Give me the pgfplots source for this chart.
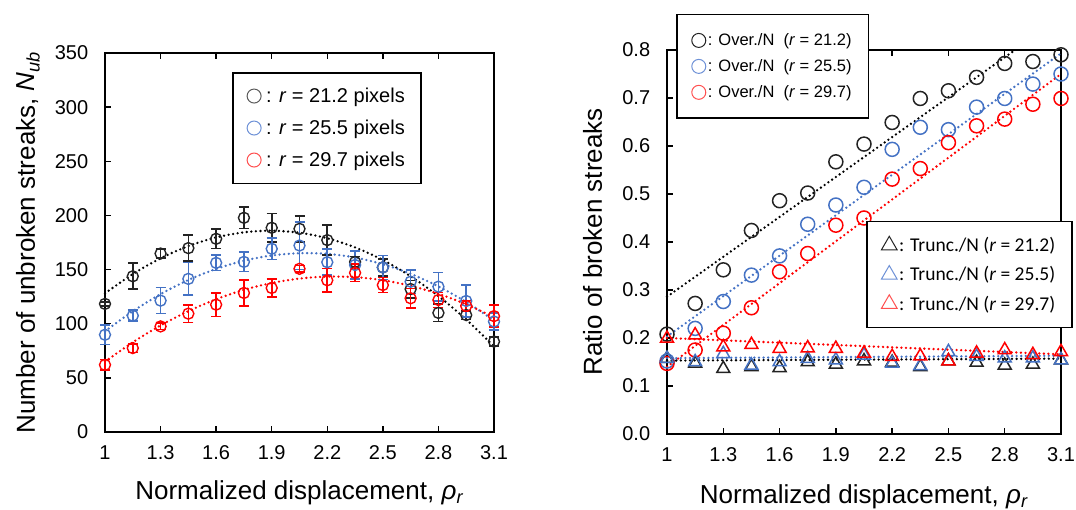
\documentclass[border=0pt]{standalone}
\usepackage{pgfplots}
\pgfplotsset{compat=1.18}
\usepackage{pgfplotstable}
\usepackage{fontspec}
\setmainfont{Liberation Sans}
\newfontfamily\calfont{Carlito}
\definecolor{cblue}{RGB}{68,114,196}
\definecolor{cred}{RGB}{255,0,0}
\definecolor{cblk}{RGB}{35,35,35}
\definecolor{lgray}{RGB}{90,90,90}
\definecolor{lblue}{RGB}{110,145,215}
\definecolor{lred}{RGB}{255,80,80}

\pgfplotstableread{
x y e
1 118.3 2
1.15 143.8 12
1.3 164.8 4
1.45 169.8 12
1.6 178.4 9
1.75 197.8 10
1.9 188.6 13
2.05 187.6 12
2.2 177.2 14
2.35 157 5
2.5 152 8
2.65 132 8
2.8 110 8
2.95 108 4
3.1 83.5 4
}\blackdata
\pgfplotstableread{
x y e
1 89.8 9
1.15 107.4 5
1.3 121.3 12
1.45 141.4 15
1.6 156.2 7
1.75 157.1 9
1.9 169.2 10
2.05 172.2 22
2.2 156.8 12
2.35 154.2 13
2.5 152 11
2.65 138.8 11
2.8 134.2 13
2.95 121 15
3.1 102 8
}\bluedata
\pgfplotstableread{
x y e
1 62 5
1.15 77.5 4
1.3 97.5 3
1.45 109.3 8
1.6 117.6 11
1.75 128.4 12
1.9 133 8.5
2.05 150.7 3
2.2 140.1 11
2.35 147 8
2.5 135.7 7
2.65 123.5 9
2.8 121.9 7
2.95 116.4 5
3.1 107 10
}\reddata

\pgfplotsset{
  base/.style={
    scale only axis, clip=false,
    xmin=1, xmax=3.1,
    xtick={1,1.3,1.6,1.9,2.2,2.5,2.8,3.1},
    xticklabels={1,1.3,1.6,1.9,2.2,2.5,2.8,3.1},
    axis line style={line width=1.8pt, black},
    tick align=inside, major tick length=6pt,
    every tick/.style={line width=1.5pt, black},
    xtick pos=both, ytick pos=left,
    /pgf/number format/assume math mode=true,
    tick label style={font=\fontsize{20}{20}\selectfont, black},
    label style={font=\fontsize{26}{26}\selectfont},
    xticklabel style={yshift=-10pt},
    yticklabel style={xshift=-13.3pt},
    legend cell align=left,
  },
  dots/.style={line width=2.6pt, dash pattern=on 0pt off 4.6pt, line cap=round},
  ebar/.style={error bars/y dir=both, error bars/y explicit,
     error bars/error bar style={line width=1.6pt, color=#1},
     error bars/error mark options={rotate=90, mark size=5pt, line width=1.6pt, color=#1}},
}

\begin{document}
\begin{tikzpicture}[x=1pt,y=1pt]
\path[use as bounding box] (0,0) rectangle (1076,510);

% ---------- Left plot ----------
\begin{axis}[base,
  at={(105pt,78pt)}, anchor=south west,
  width=389pt, height=379pt,
  ymin=0, ymax=350, ytick={0,50,...,350},
  xlabel={Normalized displacement, \textit{ρ}\textsubscript{\textit{r}}},
  ylabel={Number of unbroken streaks, \textit{N}\textsubscript{\textit{ub}}},
  xlabel style={at={(axis description cs:0.5,-0.1794)}, anchor=base},
  ylabel style={at={(axis description cs:-0.18,0.5)}, anchor=base},
  legend style={at={(0.3265,0.95)}, anchor=north west, draw=black, line width=1.6pt,
     fill=white, font=\fontsize{20}{20}\selectfont, row sep=12pt,
     inner xsep=14.3pt, inner ysep=13.3pt, nodes={inner xsep=2pt, inner ysep=2pt}},
  legend image code/.code={\draw[mark repeat=2,mark phase=2,#1] plot coordinates {(0pt,0pt) (7pt,0pt) (14pt,0pt)};},
]
\addlegendimage{only marks, mark=o, mark size=7pt, mark options={line width=1pt, lgray}}
\addlegendentry{\hspace{3pt}: \textit{r} = 21.2 pixels\hspace{8pt}}
\addlegendimage{only marks, mark=o, mark size=7pt, mark options={line width=1pt, lblue}}
\addlegendentry{\hspace{3pt}: \textit{r} = 25.5 pixels\hspace{8pt}}
\addlegendimage{only marks, mark=o, mark size=7pt, mark options={line width=1pt, lred}}
\addlegendentry{\hspace{3pt}: \textit{r} = 29.7 pixels\hspace{8pt}}

\addplot[black, dots, smooth, forget plot] coordinates {
(1,128) (1.15,145.9) (1.3,160.4) (1.45,171.7) (1.6,179.7) (1.75,184.4) (1.9,185.9)
(2.05,184.0) (2.2,178.9) (2.35,170.5) (2.5,158.8) (2.65,143.8) (2.8,125.5) (2.95,103.9) (3.1,79.1)};
\addplot[cblue, dots, smooth, forget plot] coordinates {
(1,93) (1.15,111.5) (1.3,127.3) (1.45,140.4) (1.6,150.6) (1.75,158.2) (1.9,163.0)
(2.05,165.1) (2.2,164.5) (2.35,161.1) (2.5,154.9) (2.65,146.1) (2.8,134.4) (2.95,120.1) (3.1,103)};
\addplot[cred, dots, smooth, forget plot] coordinates {
(1,65) (1.15,82.8) (1.3,98.4) (1.45,111.6) (1.6,122.6) (1.75,131.3) (1.9,137.6)
(2.05,141.7) (2.2,143.5) (2.35,143.0) (2.5,140.2) (2.65,135.0) (2.8,127.6) (2.95,117.9) (3.1,106.0)};

\addplot[forget plot, only marks, mark=o, mark size=5.5pt, mark options={line width=1.4pt, cblk}, ebar=cblk]
  table[x=x, y=y, y error=e] {\blackdata};
\addplot[forget plot, only marks, mark=o, mark size=5.5pt, mark options={line width=1.4pt, cblue}, ebar=cblue]
  table[x=x, y=y, y error=e] {\bluedata};
\addplot[forget plot, only marks, mark=o, mark size=5.5pt, mark options={line width=1.4pt, cred}, ebar=cred]
  table[x=x, y=y, y error=e] {\reddata};
\end{axis}

% ---------- Right plot: circles ----------
\begin{axis}[base,
  at={(667pt,76pt)}, anchor=south west,
  width=394pt, height=384pt,
  ymin=0, ymax=0.8, ytick={0,0.1,...,0.8},
  yticklabel style={/pgf/number format/.cd, fixed, fixed zerofill, precision=1},
  xlabel={Normalized displacement, \textit{ρ}\textsubscript{\textit{r}}},
  ylabel={Ratio of broken streaks},
  xlabel style={at={(axis description cs:0.5,-0.181)}, anchor=base},
  ylabel style={at={(axis description cs:-0.165,0.5)}, anchor=base},
  legend style={at={(0.0228,1.094)}, anchor=north west, draw=black, line width=1.6pt,
     fill=white, font=\fontsize{16.5}{16.5}\selectfont, row sep=8.5pt,
     inner xsep=15pt, inner ysep=17pt, nodes={inner xsep=2pt, inner ysep=2pt}},
  legend image code/.code={\draw[mark repeat=2,mark phase=2,#1] plot coordinates {(0pt,0pt) (7pt,0pt) (14pt,0pt)};},
]
\addlegendimage{only marks, mark=o, mark size=7pt, mark options={line width=1pt, cblk}}
\addlegendentry{: Over./N\ \ (\textit{r} = 21.2)}
\addlegendimage{only marks, mark=o, mark size=7pt, mark options={line width=1pt, lblue}}
\addlegendentry{: Over./N\ \ (\textit{r} = 25.5)}
\addlegendimage{only marks, mark=o, mark size=7pt, mark options={line width=1pt, lred}}
\addlegendentry{: Over./N\ \ (\textit{r} = 29.7)}

\addplot[black, dots, forget plot] coordinates {(1,0.286) (2.855,0.8)};
\addplot[cblue, dots, forget plot] coordinates {(1,0.203) (3.1,0.793)};
\addplot[cred, dots, forget plot] coordinates {(1,0.14) (3.1,0.75)};

\addplot[only marks, mark=o, mark size=7pt, mark options={line width=1.5pt, cblk}, forget plot] coordinates {
(1,0.208) (1.15,0.272) (1.3,0.342) (1.45,0.424) (1.6,0.486) (1.75,0.502) (1.9,0.567) (2.05,0.604)
(2.2,0.649) (2.35,0.699) (2.5,0.715) (2.65,0.743) (2.8,0.772) (2.95,0.776) (3.1,0.790)};
\addplot[only marks, mark=o, mark size=7pt, mark options={line width=1.5pt, cblue}, forget plot] coordinates {
(1,0.152) (1.15,0.220) (1.3,0.276) (1.45,0.331) (1.6,0.371) (1.75,0.437) (1.9,0.477) (2.05,0.514)
(2.2,0.593) (2.35,0.639) (2.5,0.634) (2.65,0.681) (2.8,0.699) (2.95,0.729) (3.1,0.750)};
\addplot[only marks, mark=o, mark size=7pt, mark options={line width=1.5pt, cred}, forget plot] coordinates {
(1,0.147) (1.15,0.175) (1.3,0.210) (1.45,0.263) (1.6,0.338) (1.75,0.376) (1.9,0.435) (2.05,0.450)
(2.2,0.531) (2.35,0.553) (2.5,0.607) (2.65,0.642) (2.8,0.656) (2.95,0.687) (3.1,0.699)};
\end{axis}

% ---------- Right plot: triangles ----------
\begin{axis}[
  scale only axis, clip=false, hide axis,
  at={(667pt,76pt)}, anchor=south west,
  width=394pt, height=384pt,
  xmin=1, xmax=3.1, ymin=0, ymax=0.8,
  legend cell align=left,
  legend style={at={(0.505,0.555)}, anchor=north west, draw=black, line width=1.6pt,
     fill=white, font=\calfont\fontsize{19.5}{19.5}\selectfont, row sep=9.5pt,
     inner xsep=14.7pt, inner ysep=13.7pt, nodes={inner xsep=2pt, inner ysep=2pt}},
  legend image code/.code={\draw[mark repeat=2,mark phase=2,#1] plot coordinates {(0pt,0pt) (8pt,0pt) (16pt,0pt)};},
]
\addlegendimage{only marks, mark=triangle, mark size=9pt, mark options={line width=1pt, cblk}}
\addlegendentry{: Trunc./N (\textit{r} = 21.2)\hspace{20pt}}
\addlegendimage{only marks, mark=triangle, mark size=9pt, mark options={line width=1pt, lblue}}
\addlegendentry{: Trunc./N (\textit{r} = 25.5)\hspace{20pt}}
\addlegendimage{only marks, mark=triangle, mark size=9pt, mark options={line width=1pt, lred}}
\addlegendentry{: Trunc./N (\textit{r} = 29.7)\hspace{20pt}}

\addplot[black, dots, forget plot] coordinates {(1,0.153) (3.1,0.157)};
\addplot[cblue, dots, forget plot] coordinates {(1,0.158) (3.1,0.163)};
\addplot[cred, dots, forget plot] coordinates {(1,0.200) (3.1,0.166)};

\addplot[only marks, mark=triangle, mark size=7.5pt, mark options={line width=1.5pt, cblk}, forget plot] coordinates {
(1,0.157) (1.15,0.147) (1.3,0.136) (1.45,0.140) (1.6,0.138) (1.75,0.150) (1.9,0.145) (2.05,0.152)
(2.2,0.149) (2.35,0.140) (2.5,0.152) (2.65,0.149) (2.8,0.143) (2.95,0.145) (3.1,0.154)};
\addplot[only marks, mark=triangle, mark size=7.5pt, mark options={line width=1.5pt, cblue}, forget plot] coordinates {
(1,0.157) (1.15,0.150) (1.3,0.167) (1.45,0.143) (1.6,0.150) (1.75,0.157) (1.9,0.154) (2.05,0.164)
(2.2,0.147) (2.35,0.142) (2.5,0.171) (2.65,0.161) (2.8,0.158) (2.95,0.158) (3.1,0.154)};
\addplot[only marks, mark=triangle, mark size=7.5pt, mark options={line width=1.5pt, cred}, forget plot] coordinates {
(1,0.199) (1.15,0.206) (1.3,0.181) (1.45,0.186) (1.6,0.178) (1.75,0.179) (1.9,0.178) (2.05,0.168)
(2.2,0.161) (2.35,0.162) (2.5,0.152) (2.65,0.168) (2.8,0.175) (2.95,0.165) (3.1,0.171)};
\end{axis}
\end{tikzpicture}
\end{document}
